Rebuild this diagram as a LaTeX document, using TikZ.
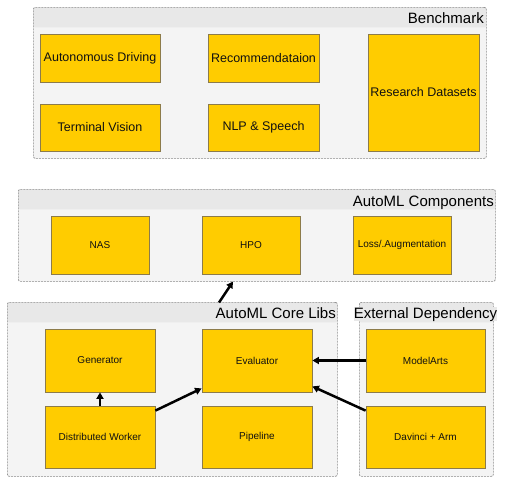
\documentclass[tikz,border=0pt]{standalone}
\usepackage{fontspec}
\setmainfont{Liberation Sans}
\usetikzlibrary{arrows.meta}
\definecolor{boxfill}{HTML}{FFCC00}
\definecolor{boxline}{HTML}{8C7B4A}
\definecolor{contfill}{HTML}{F4F4F4}
\definecolor{hdrfill}{HTML}{E8E8E8}
\definecolor{contline}{HTML}{8A8A8A}
\definecolor{txt}{HTML}{111111}
\tikzset{
  ybox/.style={draw=boxline, line width=0.8pt, fill=boxfill, inner sep=0pt, text=txt, font=\fontsize{10}{12}\selectfont},
  bigbox/.style={ybox, font=\fontsize{12.5}{15}\selectfont},
  container/.style={draw=contline, line width=0.7pt, dash pattern=on 2pt off 1pt, fill=contfill, rounded corners=2pt, inner sep=0pt, anchor=north west,
    path picture={\fill[hdrfill] (path picture bounding box.north west) rectangle ([yshift=-20pt]path picture bounding box.north east);}},
  ttl/.style={font=\fontsize{15}{18}\selectfont, text=black, inner sep=0pt},
  conn/.style={line width=2.5pt, -{Triangle[length=6.5pt,width=7pt]}, black},
}
\begin{document}
\begin{tikzpicture}[x=1pt,y=-1pt]
\useasboundingbox (0,0) rectangle (507,483);
% containers
\node[container, minimum width=453pt, minimum height=151pt] (bench) at (33,7) {};
\node[container, minimum width=477pt, minimum height=92pt] (comp) at (18,189) {};
\node[container, minimum width=330pt, minimum height=174pt] (core) at (7,302) {};
\node[container, minimum width=134pt, minimum height=174pt] (ext) at (359,302) {};
% titles
\node[ttl, anchor=base east] (tbench) at (484,23) {Benchmark};
\node[ttl, anchor=base east] (tcomp) at (494,206) {AutoML Components};
\node[ttl, anchor=base east] (tcore) at (336,318) {AutoML Core Libs};
\node[ttl, anchor=base, fill=hdrfill] (text) at (425.5,318) {External Dependency};
% benchmark boxes
\node[bigbox, minimum width=120pt, minimum height=48pt] (ad) at (100,58) {Autonomous Driving};
\node[bigbox, minimum width=120pt, minimum height=47pt] (tv) at (100,127.5) {Terminal Vision};
\node[bigbox, minimum width=111pt, minimum height=48pt] (rec) at (263.5,58) {Recommendataion};
\node[bigbox, minimum width=111pt, minimum height=47pt] (nlp) at (263.5,127.5) {NLP \& Speech};
\node[bigbox, minimum width=111pt, minimum height=117pt] (rd) at (423.5,92.5) {Research Datasets};
% components
\node[ybox, minimum width=98pt, minimum height=58pt] (nas) at (100,245) {NAS};
\node[ybox, minimum width=98pt, minimum height=58pt] (hpo) at (251,245) {HPO};
\node[ybox, minimum width=98pt, minimum height=58pt] (loss) at (402,245) {Loss/.Augmentation};
% core libs
\node[ybox, minimum width=110pt, minimum height=63pt] (gen) at (100,360.5) {Generator};
\node[ybox, minimum width=110pt, minimum height=62pt] (worker) at (100,437) {Distributed Worker};
\node[ybox, minimum width=110pt, minimum height=63pt] (eval) at (257,360.5) {Evaluator};
\node[ybox, minimum width=110pt, minimum height=62pt] (pipe) at (257,437) {Pipeline};
% external
\node[ybox, minimum width=119pt, minimum height=63pt] (model) at (425.5,360.5) {ModelArts};
\node[ybox, minimum width=119pt, minimum height=62pt] (dav) at (425.5,437) {Davinci + Arm};
% connectors
\coordinate (cuptail) at (219,302.5);
\coordinate (cuphead) at (233,281.5);
\draw[conn] (cuptail) -- (cuphead);
\draw[conn] (worker.north) -- (gen.south);
\draw[conn] ([yshift=-5pt]worker.north east) -- ([yshift=4pt]eval.south west);
\draw[conn] (model.west) -- (eval.east);
\draw[conn] ([yshift=-5pt]dav.north west) -- ([yshift=6pt]eval.south east);
\end{tikzpicture}
\end{document}
